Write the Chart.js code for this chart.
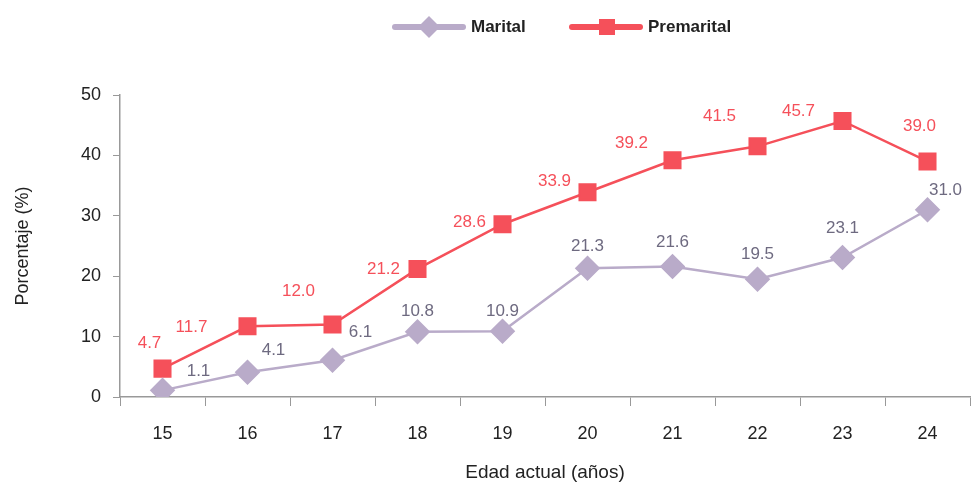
<!DOCTYPE html>
<html>
<head>
<meta charset="utf-8">
<script src="https://cdn.jsdelivr.net/npm/chart.js@4"></script>
<style>
  html, body { margin: 0; padding: 0; background: #fff; }
  #wrap { width: 973px; height: 488px; }
</style>
</head>
<body>
<div id="wrap"><canvas id="chart" width="973" height="488"></canvas></div>
<script>
// datos
const edades = ["15", "16", "17", "18", "19", "20", "21", "22", "23", "24"];
const marital = [1.1, 4.1, 6.1, 10.8, 10.9, 21.3, 21.6, 19.5, 23.1, 31.0];
const premarital = [4.7, 11.7, 12.0, 21.2, 28.6, 33.9, 39.2, 41.5, 45.7, 39.0];
const yTicks = [0, 10, 20, 30, 40, 50];

const FONT = "'Liberation Sans Narrow', 'Liberation Sans', Arial, sans-serif";
const colMarital = "#b9abc9";
const colPremarital = "#f5505a";

// desplazamiento de las etiquetas (dx, dy) respecto al punto
const offMarital = [[36, -19], [26, -22], [28, -28], [0, -20], [0, -20], [0, -22], [0, -24], [0, -25], [0, -29], [18, -19]];
const offPremarital = [[-13, -25], [-56, 1], [-34, -33], [-34, 0], [-33, -2], [-33, -11], [-41, -17], [-38, -30], [-44, -10], [-8, -35]];

const labelsPlugin = {
  id: "etiquetas",
  afterDatasetsDraw(chart) {
    const ctx = chart.ctx;
    ctx.save();
    ctx.font = "17px " + FONT;
    ctx.textAlign = "center";
    ctx.textBaseline = "middle";
    chart.data.datasets.forEach((ds, i) => {
      const meta = chart.getDatasetMeta(i);
      meta.data.forEach((pt, j) => {
        const off = ds.labelOffsets[j];
        ctx.fillStyle = ds.labelColor;
        ctx.fillText(ds.data[j].toFixed(1), pt.x + off[0], pt.y + off[1]);
      });
    });
    ctx.restore();
  }
};

const legendPlugin = {
  id: "leyenda",
  afterDraw(chart) {
    const ctx = chart.ctx;
    const items = [
      { x: 395, ds: chart.data.datasets[0], text: "Marital" },
      { x: 572, ds: chart.data.datasets[1], text: "Premarital" }
    ];
    const y = 27;
    ctx.save();
    items.forEach(it => {
      ctx.strokeStyle = it.ds.borderColor;
      ctx.lineWidth = 6;
      ctx.lineCap = "round";
      ctx.beginPath();
      ctx.moveTo(it.x, y);
      ctx.lineTo(it.x + 68, y);
      ctx.stroke();
      ctx.fillStyle = it.ds.borderColor;
      ctx.beginPath();
      if (it.ds.pointStyle === "rectRot") {
        ctx.moveTo(it.x + 34, y - 11);
        ctx.lineTo(it.x + 45, y);
        ctx.lineTo(it.x + 34, y + 11);
        ctx.lineTo(it.x + 23, y);
        ctx.closePath();
      } else {
        ctx.rect(it.x + 27, y - 8, 16, 16);
      }
      ctx.fill();
      ctx.fillStyle = "#222";
      ctx.font = "bold 17px " + FONT;
      ctx.textAlign = "left";
      ctx.textBaseline = "middle";
      ctx.fillText(it.text, it.x + 76, y);
    });
    ctx.restore();
  }
};

const ctx = document.getElementById("chart").getContext("2d");
new Chart(ctx, {
  type: "line",
  data: {
    labels: edades,
    datasets: [
      {
        label: "Marital",
        data: marital,
        borderColor: colMarital,
        backgroundColor: colMarital,
        borderWidth: 2.5,
        pointStyle: "rectRot",
        pointRadius: 11,
        pointHoverRadius: 11,
        labelColor: "#6e6a80",
        labelOffsets: offMarital
      },
      {
        label: "Premarital",
        data: premarital,
        borderColor: colPremarital,
        backgroundColor: colPremarital,
        borderWidth: 2.5,
        pointStyle: "rect",
        pointRadius: 11,
        pointHoverRadius: 11,
        labelColor: "#f5505a",
        labelOffsets: offPremarital
      }
    ]
  },
  options: {
    responsive: false,
    animation: false,
    layout: { autoPadding: false, padding: { top: 95, right: 3, left: 0, bottom: 0 } },
    plugins: {
      legend: { display: false },
      tooltip: { enabled: false }
    },
    scales: {
      x: {
        offset: true,
        grid: {
          offset: true,
          drawOnChartArea: false,
          drawTicks: true,
          tickLength: 9,
          color: "#999"
        },
        border: { color: "#999", width: 1.5 },
        ticks: {
          color: "#222",
          font: { family: FONT, size: 18 },
          padding: 17
        },
        title: {
          display: true,
          text: "Edad actual (años)",
          color: "#222",
          font: { family: FONT, size: 19 },
          padding: { top: 14 }
        },
        afterFit(scale) {
          scale.height = 91;
          scale.paddingLeft = 0;
          scale.paddingRight = 0;
        }
      },
      y: {
        min: 0,
        max: 50,
        afterBuildTicks(scale) { scale.ticks = yTicks.map(v => ({ value: v })); },
        grid: {
          drawOnChartArea: false,
          tickLength: 7,
          color: "#999"
        },
        border: { color: "#999", width: 1.5 },
        ticks: {
          color: "#222",
          font: { family: FONT, size: 18 },
          padding: 12
        },
        title: {
          display: true,
          text: "Porcentaje (%)",
          color: "#222",
          font: { family: FONT, size: 18 },
          padding: { top: 12, bottom: 10 }
        },
        afterFit(scale) { scale.width = 120; }
      }
    }
  },
  plugins: [labelsPlugin, legendPlugin]
});
</script>
</body>
</html>
